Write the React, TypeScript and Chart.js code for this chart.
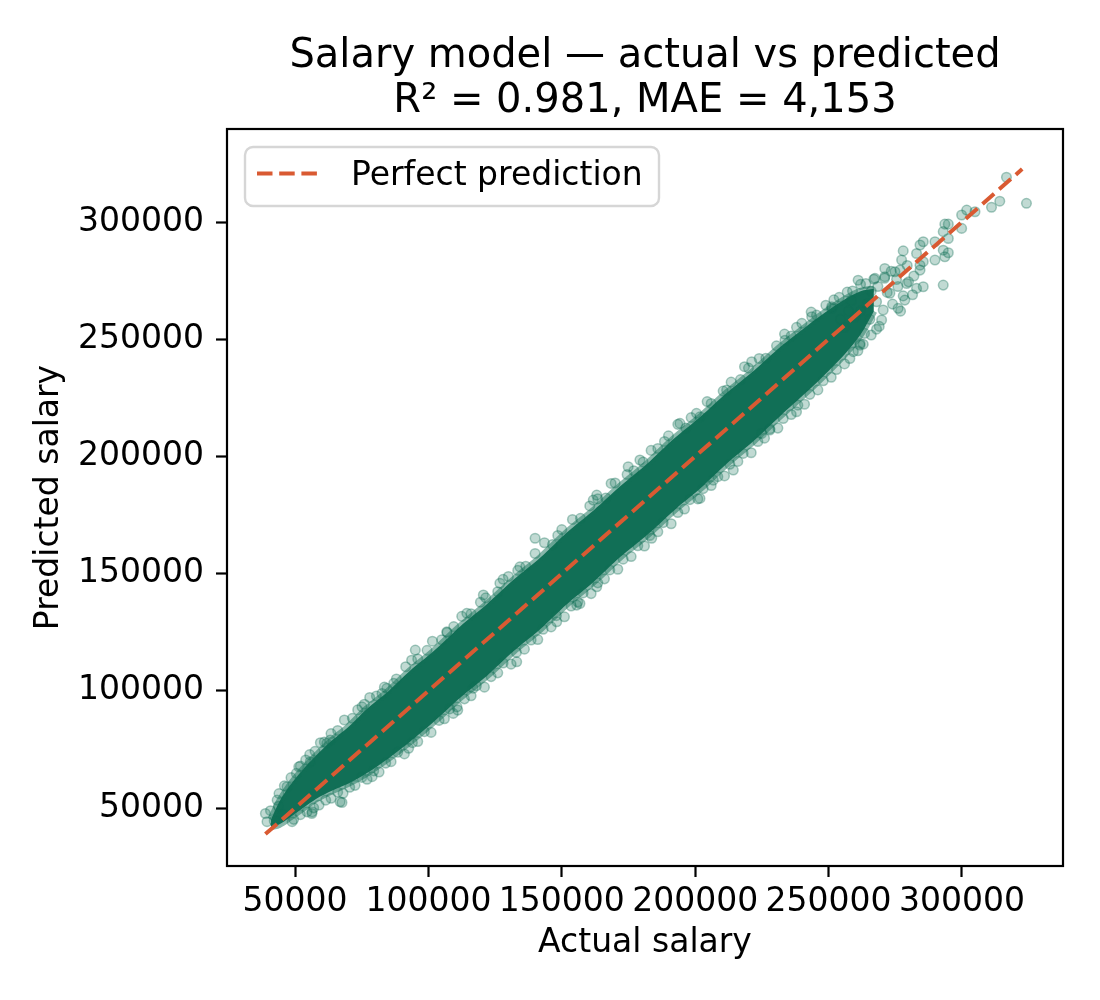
import { useEffect, useRef } from "react";
import { Chart, registerables } from "chart.js";
Chart.register(...registerables);

const FONT = "'DejaVu Sans', 'Liberation Sans', sans-serif";

const chartTitle = "Salary model — actual vs predicted";
const chartSubtitle = "R² = 0.981, MAE = 4,153";
const xLabel = "Actual salary";
const yLabel = "Predicted salary";
const legendLabel = "Perfect prediction";

const xTicks = [50000, 100000, 150000, 200000, 250000, 300000];
const yTicks = [50000, 100000, 150000, 200000, 250000, 300000];
const xRange = [24500, 337900];
const yRange = [25300, 339700];

// y = x reference, from lowest to highest salary
const perfectLine = [38900, 322600];

// dense core of the cloud (solid where thousands of points overlap)
const bandActual = [41000, 44000, 48000, 53000, 58000, 64000, 70000, 77000, 85000, 93000, 102000, 112000, 122000, 132000, 142000,
  152000, 162000, 172000, 182000, 192000, 202000, 212000, 222000, 232000, 242000, 250000, 256000, 262000, 267000];
const bandUpper = [45000, 52500, 59500, 66500, 72500, 79000, 84600, 92400, 99900, 108500, 117000, 127600, 137100, 147500, 156900,
  167700, 177100, 187400, 196900, 207600, 217000, 227300, 236600, 246800, 255800, 262500, 267000, 270500, 271500];
const bandLower = [42000, 43000, 46000, 50000, 54000, 57500, 60500, 65000, 71200, 78200, 86800, 97200, 106500, 117000, 126400,
  137100, 146600, 157200, 166500, 176900, 186400, 197100, 206700, 217400, 227700, 236500, 243500, 252000, 262000];

// loose points, [actual, predicted]
const upperFringe = [
  [46000, 59500], [50500, 64800], [54000, 70500], [57500, 74200], [61000, 78200], [66000, 83100], [71500, 88300], [76000, 94300],
  [80500, 97800], [88000, 105100], [96000, 113600], [99500, 117300], [105000, 121800], [109500, 127400], [116000, 132900],
  [119500, 137800], [126000, 142300], [130000, 148800], [136500, 153200], [140000, 158600], [146500, 162400], [150000, 168800],
  [157000, 173600], [160500, 178900], [166500, 182300], [170000, 188700], [177000, 193900], [180500, 197600], [186000, 203400],
  [190000, 208800], [196500, 212100], [200500, 218400], [206000, 222600], [210500, 227900], [217000, 232800], [220000, 237700],
  [226500, 241900], [230500, 247200], [236000, 251400], [240000, 256800], [245500, 260300], [249000, 264500], [254000, 267900],
  [259000, 270600], [264000, 273800],
];
const upperOuter = [
  [48500, 63000], [52000, 67900], [55500, 72800], [59500, 77900], [63500, 81800], [68500, 87600], [73500, 91900], [78000, 97200],
  [83500, 101600], [91500, 110300], [101500, 121200], [107000, 124900], [112500, 131800], [121500, 139700], [128000, 147600],
  [133500, 151400], [143500, 163200], [148500, 166300], [154000, 173100], [163500, 181900], [168500, 188500], [174500, 192300],
  [183500, 202600], [188500, 206400], [193500, 213700], [198500, 216600], [204500, 223400], [213500, 231700], [218500, 238300],
  [224000, 241800], [233500, 252200], [238000, 255100], [243500, 261600], [252000, 266800], [257000, 270100], [262000, 273400],
  [267000, 275600],
];
const lowerFringe = [
  [52000, 47200], [57000, 50100], [61500, 53400], [66000, 56800], [70500, 58900], [75000, 63100], [79500, 65900], [84000, 69200],
  [88500, 73800], [94000, 77900], [98500, 82600], [104000, 87400], [108000, 92300], [113500, 96600], [118000, 102200],
  [123500, 106100], [128000, 111900], [133000, 116400], [138500, 121700], [143000, 126300], [148000, 132100], [153500, 136200],
  [158000, 141800], [163500, 146100], [168000, 151600], [173000, 156200], [178500, 161900], [183000, 166300], [188000, 171800],
  [193500, 176100], [198000, 181600], [203000, 186300], [208500, 191400], [213000, 196700], [218000, 201300], [223500, 206400],
  [228000, 211800], [233000, 216200], [238500, 221900], [243000, 226500], [248000, 232300], [253000, 237100], [258000, 241800],
  [263000, 247900], [268000, 254300],
];
const lowerOuter = [
  [49500, 45200], [54500, 48400], [59000, 51300], [63500, 54200], [68000, 56300], [72500, 59700], [77000, 62300], [81500, 65400],
  [86000, 69800], [91000, 73100], [96000, 78400], [101000, 82300], [106000, 88100], [111000, 91800], [116000, 97900],
  [121000, 101600], [126000, 107700], [131000, 111400], [136000, 117800], [141000, 121900], [146000, 127300], [151000, 131600],
  [156000, 137900], [161000, 141500], [166000, 147800], [171000, 151900], [176000, 157300], [181000, 161800], [186000, 167900],
  [191000, 171300], [196000, 177600], [201000, 181900], [206000, 187600], [211000, 191700], [216000, 197900], [221000, 201600],
  [226000, 207800], [231000, 212100], [236000, 217900], [241000, 222300], [246000, 228400], [251000, 233800], [256000, 239500],
  [261000, 245100], [266000, 251800],
];
const lowEnd = [
  [38900, 47700], [39500, 44200], [40800, 48900], [42200, 44600], [43300, 53400], [43800, 50800], [44000, 56200], [45500, 47200],
  [48900, 44200], [56300, 47700],
];
const strays = [
  [51400, 67600], [56400, 48400], [67600, 52400], [75100, 93200], [78900, 63400], [82600, 98900], [87000, 103200], [92600, 75500],
  [95100, 117400], [110700, 93200], [63200, 79000], [47000, 59100], [55700, 69800], [93700, 113100], [133100, 112400],
  [66900, 52700], [106900, 125200], [114400, 133100], [148100, 129500], [156800, 137300], [126800, 145900], [84400, 101100],
  [61900, 77600], [109300, 90400], [116800, 101100], [140000, 165100], [163100, 144400], [214300, 194200], [174900, 195600],
  [179300, 198500], [155600, 136600], [201800, 182100], [206800, 189900], [163100, 183500], [120600, 140900], [134300, 152900],
  [221200, 240400], [238000, 219100], [251200, 263900], [243700, 259600], [233700, 249600], [261800, 247500], [259300, 244700],
  [183700, 165100], [224900, 209800], [228000, 211300], [194300, 214100], [211800, 228300], [161800, 181400], [201800, 216900],
];
const highTail = [
  [316700, 319100], [314200, 308900], [311100, 306300], [324200, 308000], [304900, 304400], [301800, 305100], [299900, 303000],
  [299900, 297300], [293600, 299100], [294900, 299100], [294900, 293000], [293000, 295900], [289900, 291600], [285500, 291600],
  [284300, 290200], [278000, 287700], [283000, 286600], [289900, 283800], [293000, 288000], [294900, 286900], [293600, 285200],
  [285500, 283100], [284300, 279500], [284300, 281600], [277400, 283800], [276800, 279500], [293000, 273100], [285500, 272400],
  [283000, 271700], [279300, 273800], [278600, 266700], [276100, 263200], [271100, 280200], [274900, 278800], [271100, 276700],
  [267400, 276000], [261100, 275200], [251200, 263200], [261800, 248200], [269900, 258200], [273000, 269600],
  [262000, 262000], [265500, 258500], [268000, 266000], [270500, 262500], [272000, 270000], [266000, 270500], [274000, 265000],
  [276000, 272500], [258500, 266500], [263500, 252500], [269000, 255500], [271000, 276000], [278000, 268500], [273500, 279000],
  [280000, 274500], [256000, 255000], [260000, 259500], [275500, 275500], [279500, 281500], [282000, 277000], [268500, 272500],
  [264500, 265000], [257500, 262000], [254500, 258500], [277000, 262000], [281500, 269000],
];

const CORE = "#116f56";
const HALO = "rgba(17,111,86,0.5)";
const LINE = "#d95a32";
const DASH = [15.5, 6.7];

const toPoints = (pairs: number[][]) => pairs.map(([x, y]) => ({ x, y }));

const decor = {
  id: "decor",
  afterDraw(chart: Chart) {
    const { ctx, chartArea: a } = chart;
    ctx.save();
    ctx.fillStyle = "#000";
    ctx.font = `40px ${FONT}`;
    ctx.textAlign = "center";
    ctx.textBaseline = "alphabetic";
    const cx = (a.left + a.right) / 2;
    ctx.fillText(chartTitle, cx, 67);
    ctx.fillText(chartSubtitle, cx, 112);

    ctx.strokeStyle = "#000";
    ctx.lineWidth = 2.2;
    ctx.strokeRect(a.left, a.top, a.right - a.left, a.bottom - a.top);

    // legend box
    const lx = a.left + 18, ly = a.top + 18;
    ctx.beginPath();
    ctx.roundRect(lx, ly, 414, 59, 8);
    ctx.fillStyle = "rgba(255,255,255,0.8)";
    ctx.fill();
    ctx.strokeStyle = "#d6d6d6";
    ctx.lineWidth = 2.4;
    ctx.stroke();
    ctx.beginPath();
    ctx.setLineDash(DASH);
    ctx.strokeStyle = LINE;
    ctx.lineWidth = 4;
    ctx.moveTo(lx + 12, ly + 26.5);
    ctx.lineTo(lx + 78, ly + 26.5);
    ctx.stroke();
    ctx.setLineDash([]);
    ctx.fillStyle = "#000";
    ctx.font = `33px ${FONT}`;
    ctx.textAlign = "left";
    ctx.fillText(legendLabel, lx + 106, ly + 38);
    ctx.restore();
  },
};

export default function App() {
  const ref = useRef<HTMLCanvasElement>(null);
  useEffect(() => {
    document.body.style.margin = "0";
    if (!ref.current) return;
    Chart.defaults.font.family = FONT;
    Chart.defaults.color = "#000";
    const cloud = toPoints([...upperFringe, ...upperOuter, ...lowerFringe, ...lowerOuter, ...lowEnd, ...strays, ...highTail]);
    const upperEdge = bandActual.map((x, i) => ({ x, y: bandUpper[i] }));
    const lowerEdge = bandActual.map((x, i) => ({ x, y: bandLower[i] }));
    const chart = new Chart(ref.current, {
      type: "scatter",
      data: {
        datasets: [
          { label: legendLabel, data: perfectLine.map((v) => ({ x: v, y: v })), showLine: true, borderColor: LINE,
            borderWidth: 4, borderDash: DASH, pointRadius: 0, fill: false },
          { label: "points", data: cloud, pointRadius: 4.8, backgroundColor: "rgba(17,111,86,0.26)",
            borderColor: "rgba(17,111,86,0.36)", borderWidth: 1.5 },
          { label: "core-upper", data: upperEdge, showLine: true, fill: "+1", backgroundColor: CORE, borderColor: HALO,
            borderWidth: 7, pointRadius: 0, tension: 0.3 },
          { label: "core-lower", data: lowerEdge, showLine: true, fill: false, borderColor: HALO,
            borderWidth: 7, pointRadius: 0, tension: 0.3 },
        ],
      },
      options: {
        animation: false,
        responsive: false,
        layout: { padding: { left: 0, right: 37, top: 129, bottom: 0 } },
        plugins: { legend: { display: false }, title: { display: false }, tooltip: { enabled: false } },
        scales: {
          x: {
            type: "linear", min: xRange[0], max: xRange[1],
            afterBuildTicks: (s: any) => { s.ticks = xTicks.map((value) => ({ value })); },
            afterFit: (s: any) => { s.height = 134; },
            border: { display: false },
            grid: { drawOnChartArea: false, tickLength: 11, tickWidth: 2.2, tickColor: "#000" },
            ticks: { autoSkip: false, maxRotation: 0, minRotation: 0, padding: 6, font: { size: 33 }, color: "#000",
              callback: (v: any) => String(v) },
            title: { display: true, text: xLabel, font: { size: 33 }, color: "#000", padding: { top: 0, bottom: 37 } },
          },
          y: {
            type: "linear", min: yRange[0], max: yRange[1],
            afterBuildTicks: (s: any) => { s.ticks = yTicks.map((value) => ({ value })); },
            afterFit: (s: any) => { s.width = 227; },
            border: { display: false },
            grid: { drawOnChartArea: false, tickLength: 11, tickWidth: 2.2, tickColor: "#000" },
            ticks: { autoSkip: false, padding: 12, font: { size: 33 }, color: "#000", callback: (v: any) => String(v) },
            title: { display: true, text: yLabel, font: { size: 33 }, color: "#000", padding: { top: 30, bottom: 0 } },
          },
        },
      },
      plugins: [decor],
    });
    return () => chart.destroy();
  }, []);
  return (
    <div style={{ width: 1100, height: 1000, background: "#fff" }}>
      <canvas ref={ref} width={1100} height={1000} style={{ display: "block" }} />
    </div>
  );
}
